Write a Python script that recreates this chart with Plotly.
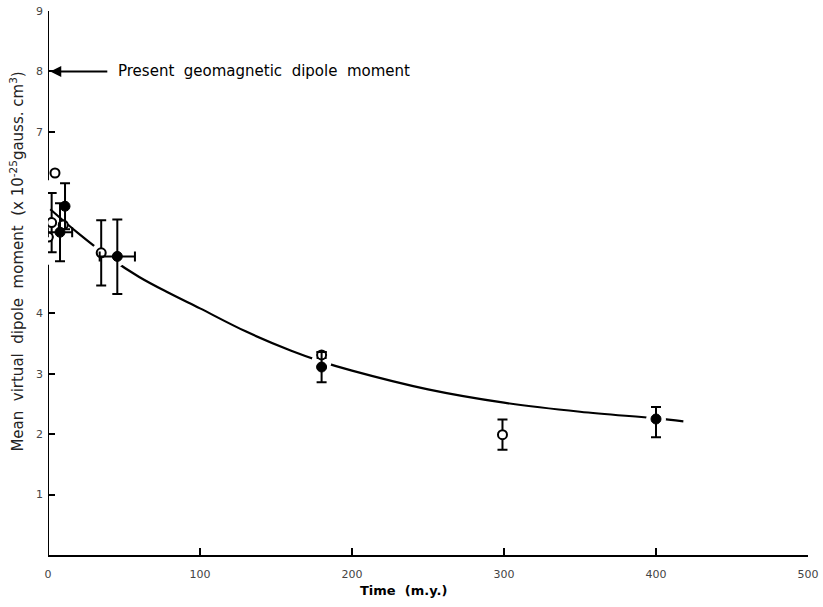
import plotly.graph_objects as go

# ---- data ----
open_x = [4.6, 2.4, 0.2, 10.0, 35.0, 180.0, 299.0]
open_y = [6.32, 5.50, 5.26, 5.46, 5.00, 3.31, 1.99]
open_err = [0.0, 0.49, 0.0, 0.0, 0.54, 0.05, 0.25]

filled_x = [11.2, 7.9, 45.6, 180.0, 400.0]
filled_y = [5.77, 5.34, 4.94, 3.11, 2.25]
filled_err_plus = [0.38, 0.48, 0.61, 0.25, 0.20]
filled_err_minus = [0.38, 0.48, 0.62, 0.25, 0.30]
filled_xerr = [0.0, 8.0, 11.6, 0.0, 0.0]

curve_x = [1.5, 20, 40, 60, 80, 100, 130, 160, 180, 200, 250, 300, 350, 400, 418]
curve_y = [5.72, 5.32, 4.93, 4.60, 4.33, 4.08, 3.70, 3.38, 3.20, 3.05, 2.74, 2.52, 2.37, 2.26, 2.21]

halo_x = [35.0, 45.6, 180.0, 400.0]
halo_y = [5.00, 4.94, 3.20, 2.25]

x_ticks = [0, 100, 200, 300, 400, 500]
y_ticks = [1, 2, 3, 4, 7, 8, 9]

FONT = "DejaVu Sans"

fig = go.Figure()

fig.add_trace(go.Scatter(
    x=curve_x, y=curve_y, mode="lines",
    line=dict(color="black", width=2.2, shape="spline"),
    hoverinfo="skip", showlegend=False))

fig.add_trace(go.Scatter(
    x=halo_x, y=halo_y, mode="markers",
    marker=dict(color="white", size=20, line=dict(width=0)),
    hoverinfo="skip", showlegend=False))

fig.add_trace(go.Scatter(
    x=open_x, y=open_y, mode="markers",
    marker=dict(color="white", size=9, line=dict(color="black", width=2)),
    error_y=dict(type="data", array=open_err, color="black", thickness=2, width=5),
    showlegend=False))

fig.add_trace(go.Scatter(
    x=filled_x, y=filled_y, mode="markers",
    marker=dict(color="black", size=10, line=dict(color="black", width=1)),
    error_y=dict(type="data", symmetric=False, array=filled_err_plus,
                 arrayminus=filled_err_minus, color="black", thickness=2, width=5),
    error_x=dict(type="data", array=filled_xerr, color="black", thickness=2, width=5),
    showlegend=False))

# broken y axis line
fig.add_shape(type="line", xref="x", yref="y", x0=0, x1=0, y0=0, y1=4.8,
              line=dict(color="black", width=2))
fig.add_shape(type="line", xref="x", yref="y", x0=0, x1=0, y0=6.2, y1=9,
              line=dict(color="black", width=2))

# arrow + label
fig.add_annotation(x=1.5, y=8, ax=40, ay=8, xref="x", yref="y", axref="x", ayref="y",
                   text="", showarrow=True, arrowhead=2, arrowsize=1.1,
                   arrowwidth=2, arrowcolor="black")
fig.add_annotation(x=45, y=8, xref="x", yref="y", xanchor="left", yanchor="middle",
                   text="Present  geomagnetic  dipole  moment", showarrow=False,
                   font=dict(family=FONT, size=15, color="black"))

# axis titles
fig.add_annotation(x=-0.041, y=0.539, xref="paper", yref="paper", textangle=-90,
                   xanchor="center", yanchor="middle",
                   text="Mean  virtual  dipole  moment  (x 10<sup>-25</sup>gauss. cm<sup>3</sup>)",
                   showarrow=False, font=dict(family=FONT, size=15, color="#222"))
fig.add_annotation(x=0.468, y=-0.066, xref="paper", yref="paper",
                   xanchor="center", yanchor="middle",
                   text="<b>Time  (m.y.)</b>", showarrow=False,
                   font=dict(family=FONT, size=13, color="black"))

fig.update_xaxes(range=[0, 500], tickvals=x_ticks, ticktext=[str(v) for v in x_ticks],
                 showline=True, linecolor="black", linewidth=2,
                 ticks="inside", ticklen=7, tickwidth=2, tickcolor="black",
                 showgrid=False, zeroline=False, ticklabelstandoff=8, automargin=False,
                 tickfont=dict(family=FONT, size=11, color="#444"))
fig.update_yaxes(range=[0, 9], tickvals=y_ticks, ticktext=[str(v) for v in y_ticks],
                 showline=False, ticks="inside", ticklen=7, tickwidth=2, tickcolor="black",
                 showgrid=False, zeroline=False, ticklabelstandoff=4, automargin=False,
                 tickfont=dict(family=FONT, size=11, color="#444"))

fig.update_layout(width=823, height=607, plot_bgcolor="white", paper_bgcolor="white",
                  margin=dict(l=48, r=15, t=11, b=52), showlegend=False)

fig.write_html("out.html")
